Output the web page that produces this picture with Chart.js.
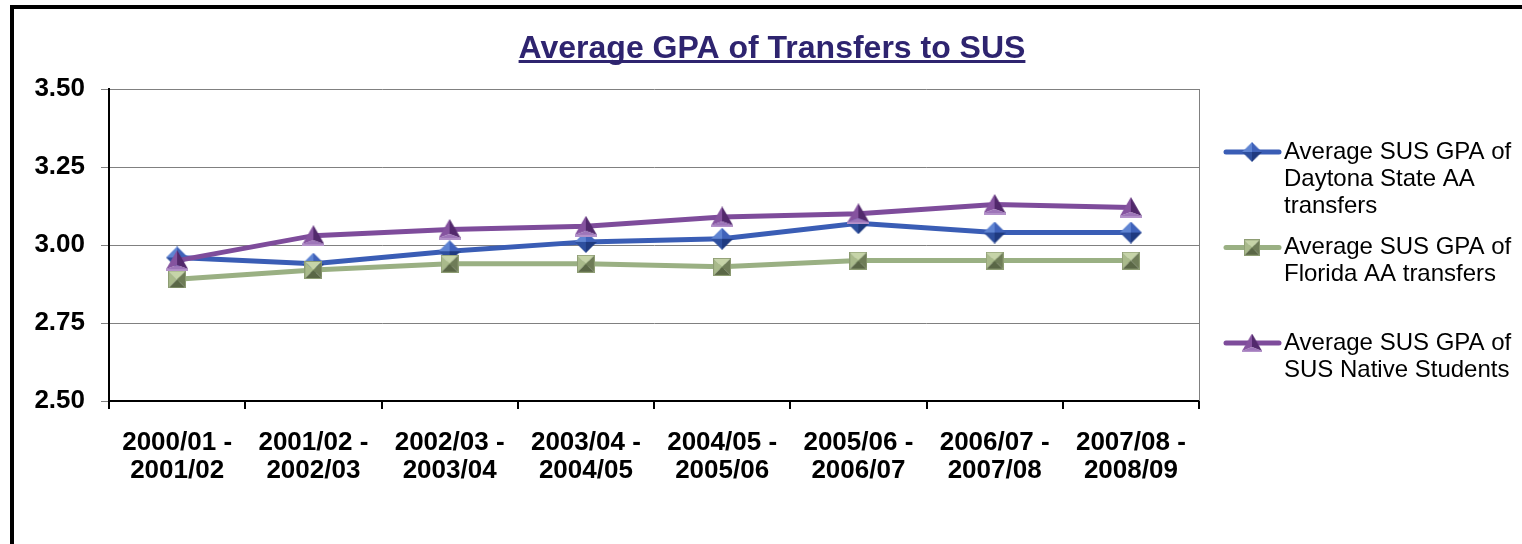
<!DOCTYPE html>
<html>
<head>
<meta charset="utf-8">
<script src="https://cdn.jsdelivr.net/npm/chart.js@4.4.1/dist/chart.umd.min.js"></script>
<style>
    html, body { margin: 0; padding: 0; background: #fff; overflow: hidden; }
    #frame { position: absolute; left: 10px; top: 5px; width: 1600px; height: 700px; border: 4px solid #000; box-sizing: border-box; }
    #wrap { position: absolute; left: 0; top: 0; width: 1522px; height: 544px; }
</style>
</head>
<body>
<div id="frame"></div>
<div id="wrap"><canvas id="gpa-chart"></canvas></div>
<script>
const TITLE = "Average GPA of Transfers to SUS";

const YEARS = [
    ["2000/01 -", "2001/02"],
    ["2001/02 -", "2002/03"],
    ["2002/03 -", "2003/04"],
    ["2003/04 -", "2004/05"],
    ["2004/05 -", "2005/06"],
    ["2005/06 -", "2006/07"],
    ["2006/07 -", "2007/08"],
    ["2007/08 -", "2008/09"],
];

const NAME_DAYTONA = ["Average SUS GPA of", "Daytona State AA", "transfers"];
const NAME_FLORIDA = ["Average SUS GPA of", "Florida AA transfers"];
const NAME_NATIVE = ["Average SUS GPA of", "SUS Native Students"];

const DAYTONA = [2.96, 2.94, 2.98, 3.01, 3.02, 3.07, 3.04, 3.04];
const FLORIDA = [2.89, 2.92, 2.94, 2.94, 2.93, 2.95, 2.95, 2.95];
const NATIVE = [2.95, 3.03, 3.05, 3.06, 3.09, 3.10, 3.13, 3.12];

const Y_MIN = 2.5;
const Y_MAX = 3.5;
const Y_STEP = 0.25;

const C_BLUE = "#3A5DB5";
const C_GREEN = "#9AB083";
const C_PURPLE = "#7E4C9B";
const C_TITLE = "#2E246F";

// little bevelled marker images, like the office 3d markers
function poly(g, pts, fill) {
    g.beginPath();
    g.moveTo(pts[0][0], pts[0][1]);
    for (let i = 1; i < pts.length; i++) g.lineTo(pts[i][0], pts[i][1]);
    g.closePath();
    g.fillStyle = fill;
    g.fill();
}

function makeMarker(w, h, draw) {
    const c = document.createElement("canvas");
    c.width = w;
    c.height = h;
    draw(c.getContext("2d"));
    return c;
}

const diamond = makeMarker(22, 22, g => {
    poly(g, [[11, 0], [11, 11], [0, 11]], "#5F84D2");
    poly(g, [[11, 0], [22, 11], [11, 11]], "#3F62BA");
    poly(g, [[11, 11], [22, 11], [11, 22]], "#1F3A80");
    poly(g, [[0, 11], [11, 11], [11, 22]], "#2E4F9E");
});

const square = makeMarker(18, 18, g => {
    poly(g, [[0, 0], [18, 0], [9, 9]], "#C6D4A8");
    poly(g, [[0, 0], [9, 9], [0, 18]], "#A9BA8B");
    poly(g, [[18, 0], [18, 18], [9, 9]], "#6E7C57");
    poly(g, [[0, 18], [9, 9], [18, 18]], "#5A6746");
    g.strokeStyle = "#8E9D74";
    g.lineWidth = 1;
    g.strokeRect(0.5, 0.5, 17, 17);
});

const triangle = makeMarker(22, 21, g => {
    poly(g, [[11, 0], [0, 19], [11, 15]], "#85539F");
    poly(g, [[11, 0], [11, 15], [22, 19]], "#52296C");
    poly(g, [[0, 19], [11, 15], [22, 19]], "#9E75B9");
    poly(g, [[0, 19], [22, 19], [22, 21], [0, 21]], "#B391C9");
});

const seriesList = [
    { name: NAME_DAYTONA, data: DAYTONA, color: C_BLUE, marker: diamond, order: 3 },
    { name: NAME_FLORIDA, data: FLORIDA, color: C_GREEN, marker: square, order: 2 },
    { name: NAME_NATIVE, data: NATIVE, color: C_PURPLE, marker: triangle, order: 1 },
];

const titlePlugin = {
    id: "underlinedTitle",
    afterDraw(chart) {
        const ctx = chart.ctx;
        ctx.save();
        ctx.font = "bold 32px Arial, 'Liberation Sans', sans-serif";
        ctx.fillStyle = C_TITLE;
        ctx.textAlign = "center";
        ctx.textBaseline = "alphabetic";
        const cx = 772;
        ctx.fillText(TITLE, cx, 58);
        const w = ctx.measureText(TITLE).width;
        ctx.fillRect(cx - w / 2, 60, w, 3);
        ctx.restore();
    }
};

const frameLine = {
    id: "frameLine",
    beforeDatasetsDraw(chart) {
        const {ctx, chartArea} = chart;
        ctx.save();
        ctx.strokeStyle = "#808080";
        ctx.lineWidth = 1;
        ctx.beginPath();
        ctx.moveTo(chartArea.right + 0.5, chartArea.top);
        ctx.lineTo(chartArea.right + 0.5, chartArea.bottom);
        ctx.stroke();
        ctx.restore();
    }
};

const sideLegend = {
    id: "sideLegend",
    afterDraw(chart) {
        const ctx = chart.ctx;
        const left = chart.chartArea.right + 25;
        const textX = left + 60;
        const lineH = 27;
        const slot = 95.5;
        ctx.save();
        ctx.font = "24px Arial, 'Liberation Sans', sans-serif";
        ctx.fillStyle = "#000";
        ctx.textAlign = "left";
        ctx.textBaseline = "middle";
        seriesList.forEach((s, i) => {
            const y = 152 + i * slot;
            ctx.strokeStyle = s.color;
            ctx.lineWidth = 5;
            ctx.lineCap = "round";
            ctx.beginPath();
            ctx.moveTo(left + 2, y);
            ctx.lineTo(left + 55, y);
            ctx.stroke();
            const m = s.marker;
            ctx.drawImage(m, left + 28 - m.width * 0.45, y - m.height * 0.45, m.width * 0.9, m.height * 0.9);
            s.name.forEach((txt, k) => ctx.fillText(txt, textX, y + k * lineH));
        });
        ctx.restore();
    }
};

const ctx = document.getElementById("gpa-chart").getContext("2d");

new Chart(ctx, {
    type: "line",
    data: {
        labels: YEARS,
        datasets: seriesList.map(s => ({
            label: s.name.join(" "),
            data: s.data,
            order: s.order,
            borderColor: s.color,
            backgroundColor: s.color,
            borderWidth: 5,
            tension: 0,
            fill: false,
            pointStyle: s.marker,
            pointRadius: 10,
            pointHoverRadius: 10,
        })),
    },
    options: {
        responsive: true,
        maintainAspectRatio: false,
        animation: false,
        layout: {padding: {top: 89, right: 323, left: 0, bottom: 0}},
        scales: {
            x: {
                type: "category",
                offset: true,
                afterFit: (scale) => { scale.height = 143; },
                grid: {offset: true, drawOnChartArea: false, color: "#000", lineWidth: 2, tickLength: 8},
                border: {color: "#000", width: 2},
                ticks: {
                    color: "#000",
                    padding: 20,
                    maxRotation: 0,
                    autoSkip: false,
                    font: {family: "Arial, 'Liberation Sans', sans-serif", size: 26, weight: "bold", lineHeight: 28 / 26},
                },
            },
            y: {
                type: "linear",
                min: Y_MIN,
                max: Y_MAX,
                afterFit: (scale) => { scale.width = 109; },
                grid: {color: "#808080", lineWidth: 1, tickLength: 8},
                border: {color: "#000", width: 2},
                ticks: {
                    stepSize: Y_STEP,
                    color: "#000",
                    padding: 16,
                    font: {family: "Arial, 'Liberation Sans', sans-serif", size: 26, weight: "bold"},
                    callback: (v) => Number(v).toFixed(2),
                },
            },
        },
        plugins: {
            legend: {display: false},
            title: {display: false},
            tooltip: {enabled: false},
        },
    },
    plugins: [frameLine, sideLegend, titlePlugin],
});
</script>
</body>
</html>
